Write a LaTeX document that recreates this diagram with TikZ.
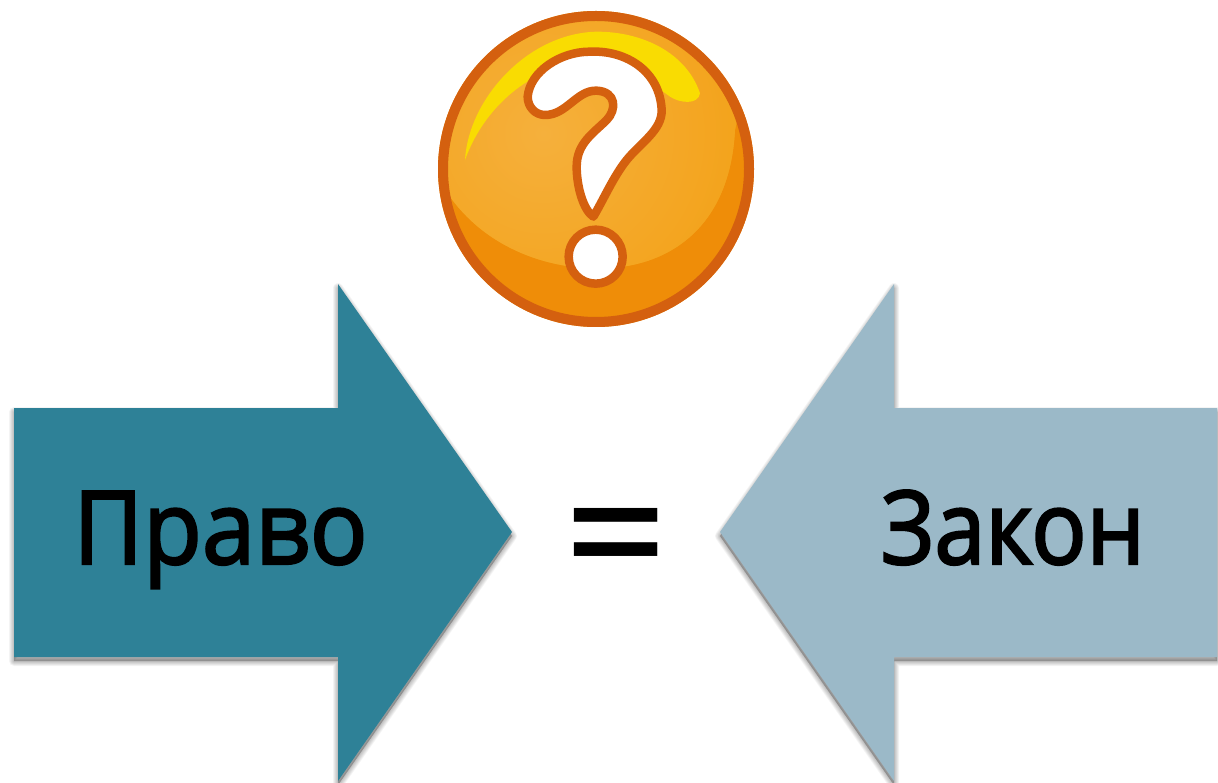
\documentclass[tikz,border=0pt]{standalone}
\usepackage{fontspec}
\setmainfont{Open Sans}[FakeBold=2.2,FakeStretch=0.9]
\newfontfamily\widerfont{Open Sans}[FakeBold=2.2,FakeStretch=0.94]
\newfontfamily\boldfont{Liberation Sans}[BoldFont={* Bold}]
\definecolor{teal}{HTML}{2E8197}
\definecolor{pale}{HTML}{9BB9C8}
\definecolor{rim}{HTML}{D4600F}
\definecolor{ballbase}{HTML}{EF8D08}
\definecolor{balllit}{HTML}{F5B03C}
\definecolor{ballmid}{HTML}{F3A116}
\definecolor{gloss}{HTML}{F9DC02}
\tikzset{
  arrowfill/.style={fill=#1,draw=none},
  shadowlayer/.style={draw=black,fill=black,opacity=0.04,line width=#1,line join=round},
  bigword/.style={font=\fontsize{102}{110}\selectfont,inner sep=0pt,anchor=base,text=black},
  markline/.style={draw=rim,fill=white,line width=8.5pt,line join=round},
}
\begin{document}
\begin{tikzpicture}[x=1pt,y=-1pt]
\useasboundingbox (0,0) rectangle (1218,783);
\fill[white] (0,0) rectangle (1218,783);
% arrow outlines
\def\leftarrowpath{(14,408) -- (338,408) -- (338,284) -- (512,532) -- (338,781) -- (338,657) -- (14,657) -- cycle}
\def\rightarrowpath{(1217,408) -- (894,408) -- (894,284) -- (720,532) -- (894,781) -- (894,657) -- (1217,657) -- cycle}
% soft shadows
\foreach \w in {10pt,8.5pt,7pt,5.5pt,4pt,2.5pt,1pt}{
  \draw[shadowlayer=\w,shift={(0,4)}] \leftarrowpath;
  \draw[shadowlayer=\w,shift={(0,4)}] \rightarrowpath;
}
\fill[arrowfill=teal] \leftarrowpath;
\fill[arrowfill=pale] \rightarrowpath;
% ball
\begin{scope}[shift={(430,0)},x=0.33333pt,y=-0.33333pt]
  \fill[ballbase] (498,507) circle (158pt);
  \begin{scope}
    \clip (498,507) circle (150pt);
    \begin{scope}
      \clip (40,560) .. controls (150,740) and (350,810) .. (520,805)
            .. controls (720,800) and (900,680) .. (915,390)
            -- (1000,0) -- (0,0) -- cycle;
      \fill[ballmid] (0,0) rectangle (1000,1000);
      \shade[inner color=balllit,outer color=ballmid] (340,400) circle (230pt);
    \end{scope}
    \fill[gloss] (105,480) .. controls (115,300) and (290,100) .. (500,95)
       .. controls (640,95) and (770,160) .. (810,280)
       .. controls (805,315) and (750,310) .. (720,290)
       .. controls (640,230) and (560,200) .. (470,190)
       .. controls (330,190) and (170,300) .. (105,480) -- cycle;
  \end{scope}
  \draw[rim,line width=10pt] (498,507) circle (153pt);
  \draw[markline] (293,290) .. controls (300,215) and (390,155) .. (480,155)
     .. controls (590,150) and (690,215) .. (695,330)
     .. controls (697,390) and (630,430) .. (590,480)
     .. controls (550,530) and (520,600) .. (490,650)
     .. controls (460,630) and (440,560) .. (440,500)
     .. controls (440,430) and (490,400) .. (530,360)
     .. controls (560,330) and (560,275) .. (500,272)
     .. controls (440,270) and (410,345) .. (345,345)
     .. controls (315,345) and (293,320) .. (293,290) -- cycle;
  \draw[markline] (497,770) circle (27pt);
\end{scope}
% words
\node[bigword] (pravo) at (220.5,564) {\widerfont Право};
\node[bigword] (zakon) at (1013,564) {Закон};
\node[inner sep=0pt] (equals) at (616,541) {\resizebox{97pt}{66pt}{\boldfont\bfseries =}};
\end{tikzpicture}
\end{document}
